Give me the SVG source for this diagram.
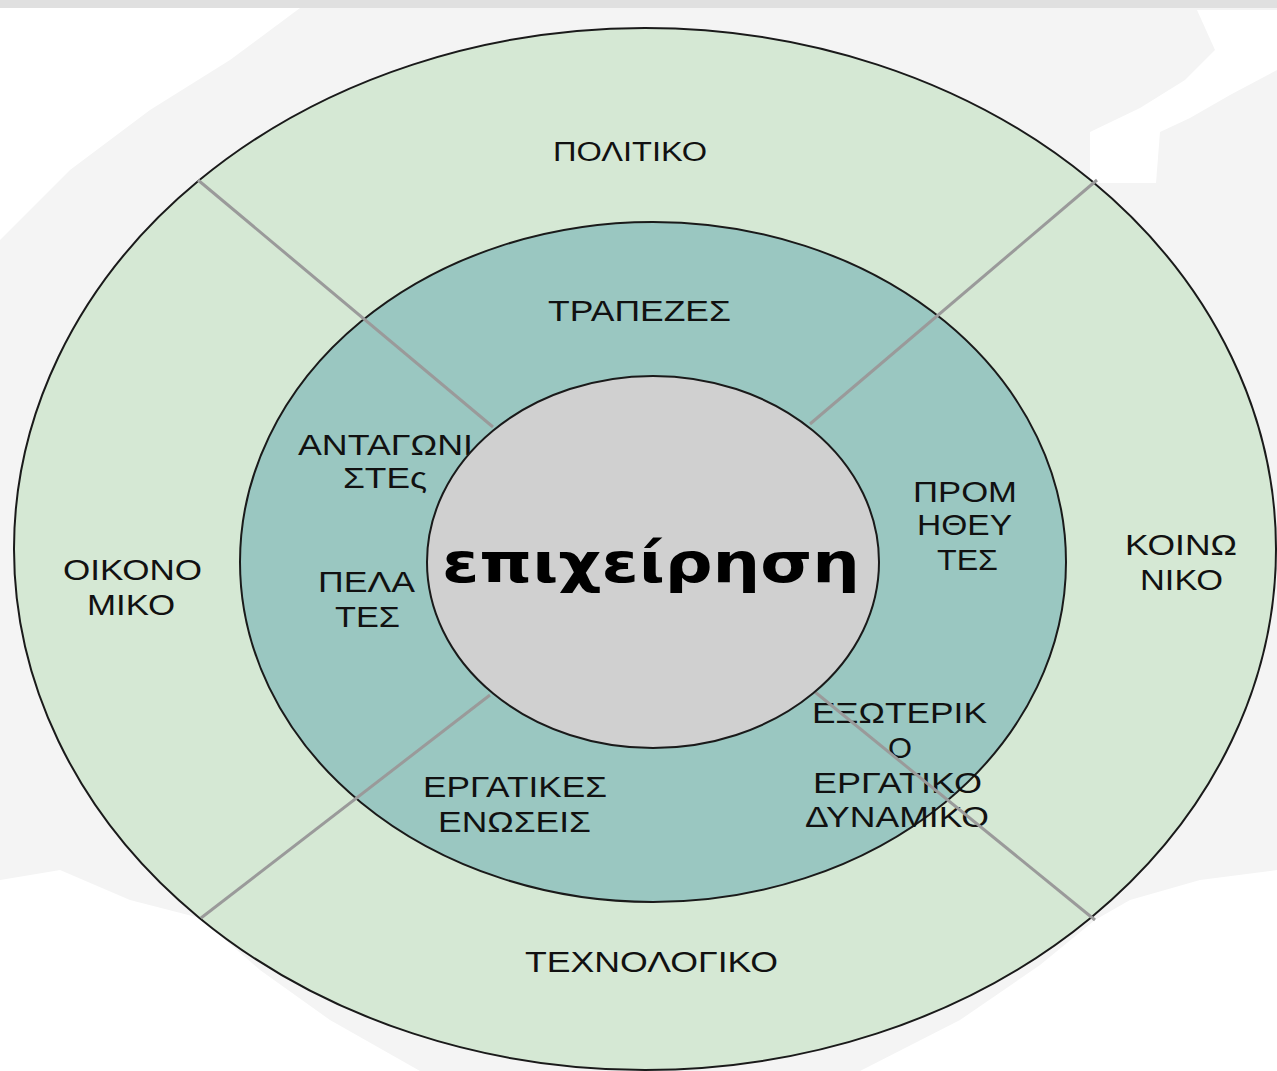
<svg xmlns="http://www.w3.org/2000/svg" width="1277" height="1071" viewBox="0 0 1277 1071">
  <style>
    .ring { stroke: #1a1a1a; stroke-width: 2; }
    .outer { fill: #d5e8d4; }
    .middle { fill: #9ac7c1; }
    .inner { fill: #d0d0d0; }
    .lbl { font-family: "Liberation Sans", Arial, sans-serif; font-size: 30px; fill: #111; }
    .core { font-family: "DejaVu Sans", Verdana, sans-serif; font-size: 55px; font-weight: bold; fill: #000; }
    .div { stroke: #9a9a9a; stroke-width: 3; fill: none; }
  </style>
  <rect x="0" y="0" width="1277" height="1071" fill="#f4f4f4"/>
  <rect x="0" y="0" width="1277" height="8" fill="#e0e0e0"/>
  <g fill="#ffffff">
    <polygon points="1197,10 1277,10 1277,70 1230,95 1190,118 1160,132 1156,183 1090,183 1090,132 1140,108 1185,80 1215,50"/>
    <polygon points="0,880 60,870 130,900 200,918 260,970 330,1020 420,1071 0,1071"/>
    <polygon points="1277,870 1200,880 1130,900 1095,920 1040,965 960,1020 860,1071 1277,1071"/>
    <polygon points="0,8 300,8 230,60 150,110 70,170 0,240"/>
  </g>
  <g id="ring-outer">
    <ellipse class="ring outer" cx="645" cy="549" rx="631" ry="521"/>
  </g>
  <g id="ring-middle">
    <ellipse class="ring middle" cx="653" cy="562" rx="413" ry="340"/>
  </g>
  <g id="labels-outer">
    <g id="politiko"><text class="lbl" style="font-size:27px" x="553" y="161" textLength="154" lengthAdjust="spacingAndGlyphs">ΠΟΛΙΤΙΚΟ</text></g>
    <g id="oikonomiko">
      <text class="lbl" x="63" y="580" textLength="139" lengthAdjust="spacingAndGlyphs">ΟΙΚΟΝΟ</text>
      <text class="lbl" x="87" y="615" textLength="88" lengthAdjust="spacingAndGlyphs">ΜΙΚΟ</text>
    </g>
    <g id="koinoniko">
      <text class="lbl" x="1125" y="555" textLength="112" lengthAdjust="spacingAndGlyphs">ΚΟΙΝΩ</text>
      <text class="lbl" x="1140" y="590" textLength="83" lengthAdjust="spacingAndGlyphs">ΝΙΚΟ</text>
    </g>
    <g id="technologiko"><text class="lbl" x="525" y="972" textLength="253" lengthAdjust="spacingAndGlyphs">ΤΕΧΝΟΛΟΓΙΚΟ</text></g>
  </g>
  <g id="labels-middle">
    <g id="trapezes"><text class="lbl" x="548" y="321" textLength="183" lengthAdjust="spacingAndGlyphs">ΤΡΑΠΕΖΕΣ</text></g>
    <g id="antagonistes">
      <text class="lbl" x="298" y="455" textLength="175" lengthAdjust="spacingAndGlyphs">ΑΝΤΑΓΩΝΙ</text>
      <text class="lbl" x="343" y="488" textLength="84" lengthAdjust="spacingAndGlyphs">ΣΤΕς</text>
    </g>
    <g id="pelates">
      <text class="lbl" x="318" y="592" textLength="97" lengthAdjust="spacingAndGlyphs">ΠΕΛΑ</text>
      <text class="lbl" x="335" y="627" textLength="65" lengthAdjust="spacingAndGlyphs">ΤΕΣ</text>
    </g>
    <g id="promitheftes">
      <text class="lbl" x="913" y="502" textLength="104" lengthAdjust="spacingAndGlyphs">ΠΡΟΜ</text>
      <text class="lbl" x="917" y="535" textLength="95" lengthAdjust="spacingAndGlyphs">ΗΘΕΥ</text>
      <text class="lbl" x="937" y="570" textLength="61" lengthAdjust="spacingAndGlyphs">ΤΕΣ</text>
    </g>
    <g id="ergatikes-enoseis">
      <text class="lbl" x="423" y="797" textLength="184" lengthAdjust="spacingAndGlyphs">ΕΡΓΑΤΙΚΕΣ</text>
      <text class="lbl" x="438" y="832" textLength="153" lengthAdjust="spacingAndGlyphs">ΕΝΩΣΕΙΣ</text>
    </g>
    <g id="exoteriko-ergatiko">
      <text class="lbl" x="812" y="723" textLength="175" lengthAdjust="spacingAndGlyphs">ΕΞΩΤΕΡΙΚ</text>
      <text class="lbl" x="888" y="758" textLength="24" lengthAdjust="spacingAndGlyphs">Ο</text>
      <text class="lbl" x="813" y="793" textLength="169" lengthAdjust="spacingAndGlyphs">ΕΡΓΑΤΙΚΟ</text>
      <text class="lbl" x="805" y="827" textLength="184" lengthAdjust="spacingAndGlyphs">ΔΥΝΑΜΙΚΟ</text>
    </g>
  </g>
  <g id="connectors">
    <line class="div" x1="198" y1="180" x2="493" y2="427"/>
    <line class="div" x1="1097" y1="180" x2="810" y2="424"/>
    <line class="div" x1="201" y1="918" x2="490" y2="695"/>
    <line class="div" x1="815" y1="692" x2="1095" y2="920"/>
  </g>
  <g id="core-node">
    <ellipse class="ring inner" cx="653" cy="562" rx="226" ry="186"/>
    <text class="core" x="442" y="582" textLength="418" lengthAdjust="spacingAndGlyphs">επιχείρηση</text>
  </g>
</svg>
